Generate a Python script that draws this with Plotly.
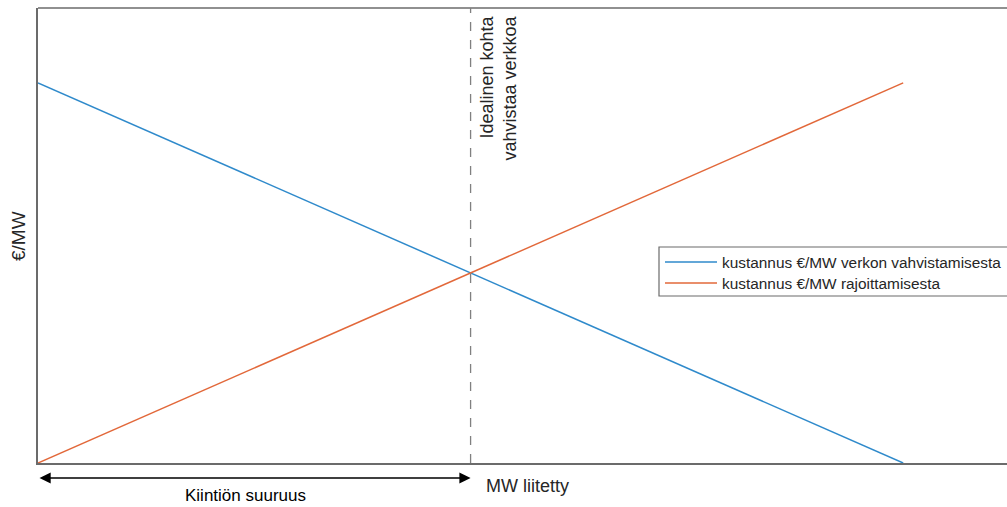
import plotly.graph_objects as go

# Data
mw_connected = [0, 1, 2]
cost_reinforce = [1.0, 0.5, 0.0]
cost_curtail = [0.0, 0.5, 1.0]
ideal_point = 1
series_names = ["kustannus €/MW verkon vahvistamisesta", "kustannus €/MW rajoittamisesta"]
series_colors = ["#2F8ACB", "#E2683A"]

FONT = "Liberation Sans, Arial, sans-serif"
W, H = 1007, 507
L, T, B = 38, 8, 44
pw, ph = W - L, H - T - B

def px(x):
    return (x - L) / pw

def py(y):
    return (H - B - y) / ph

fig = go.Figure()
for yvals, name, color in zip([cost_reinforce, cost_curtail], series_names, series_colors):
    fig.add_trace(go.Scatter(x=mw_connected, y=yvals, mode="lines", name=name,
                             line=dict(color=color, width=1.5), showlegend=False))

fig.update_layout(
    width=W, height=H,
    margin=dict(l=L, r=0, t=T, b=B),
    paper_bgcolor="white", plot_bgcolor="white",
    font=dict(family=FONT, color="#262626"),
    xaxis=dict(range=[0, 2.24], showticklabels=False, ticks="", showgrid=False, zeroline=False,
               showline=True, linecolor="#6b6b6b", linewidth=1.5),
    yaxis=dict(range=[0, 1.197], showticklabels=False, ticks="", showgrid=False, zeroline=False,
               showline=True, linecolor="#6b6b6b", linewidth=1.5),
    showlegend=False,
)

# top border
fig.add_shape(type="line", xref="paper", yref="paper", x0=0, x1=1, y0=1, y1=1,
              line=dict(color="#6b6b6b", width=1.5))
# dashed ideal line
fig.add_shape(type="line", xref="x", yref="paper", x0=ideal_point, x1=ideal_point, y0=0, y1=1,
              line=dict(color="#808080", width=1.3, dash="dash"))

# legend box (extends past the right edge, as in the reference)
fig.add_shape(type="rect", xref="paper", yref="paper", x0=px(659), x1=px(1030), y0=py(296), y1=py(247),
              line=dict(color="#6b6b6b", width=1.2), fillcolor="white", layer="above")
for i, (name, color) in enumerate(zip(series_names, series_colors)):
    yrow = 262 + 21 * i
    fig.add_shape(type="line", xref="paper", yref="paper", x0=px(665), x1=px(717), y0=py(yrow), y1=py(yrow),
                  line=dict(color=color, width=1.5), layer="above")
    fig.add_annotation(text=name, xref="paper", yref="paper", x=px(720), y=py(yrow),
                       xanchor="left", yanchor="middle", showarrow=False,
                       font=dict(family=FONT, size=15.4, color="#262626"))

fig.add_annotation(text="Idealinen kohta<br>vahvistaa verkkoa", textangle=-90, align="right",
                   xref="paper", yref="paper", x=px(498), y=py(14), xanchor="center", yanchor="top",
                   showarrow=False, font=dict(family=FONT, size=18, color="#262626"))
fig.add_annotation(text="€/MW", textangle=-90, xref="paper", yref="paper", x=px(18), y=py(236),
                   xanchor="center", yanchor="middle", showarrow=False,
                   font=dict(family=FONT, size=19, color="#262626"))
fig.add_annotation(text="MW liitetty", xref="paper", yref="paper", x=px(484), y=py(486),
                   xanchor="left", yanchor="middle", showarrow=False,
                   font=dict(family=FONT, size=18, color="#262626"))
fig.add_annotation(text="Kiintiön suuruus", xref="paper", yref="paper", x=px(245), y=py(507),
                   xanchor="center", yanchor="bottom", showarrow=False,
                   font=dict(family=FONT, size=17, color="#000000"))
# double-headed arrow
fig.add_annotation(text="", x=ideal_point, y=py(478), xref="x", yref="paper",
                   ax=0, ay=0, axref="x", ayref="pixel",
                   showarrow=True, arrowside="end+start", arrowhead=2, arrowsize=1.6,
                   arrowwidth=1.4, arrowcolor="#000000", standoff=0, startstandoff=0)

fig.write_html("out.html", config={"displayModeBar": False},
               post_script="document.body.style.margin='0';document.body.style.overflow='hidden';")
